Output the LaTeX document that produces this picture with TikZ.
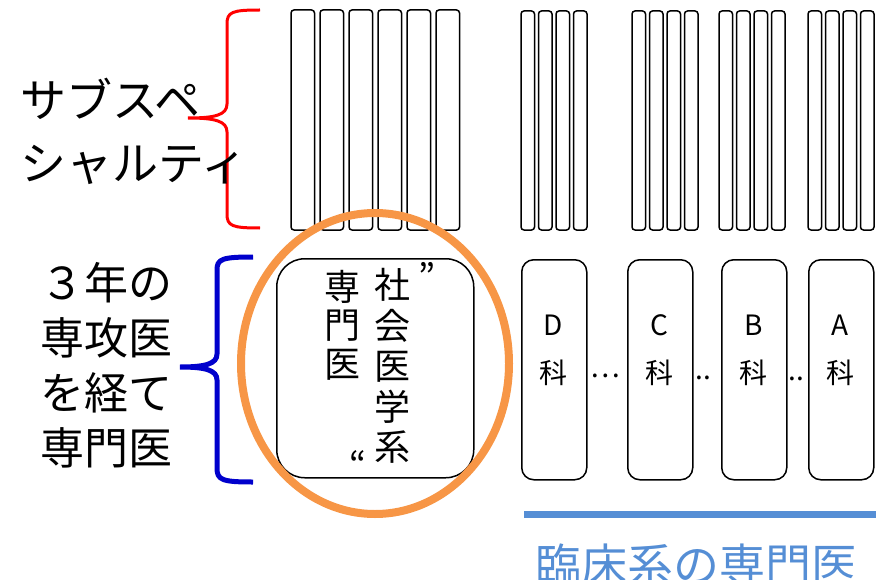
\documentclass[tikz,border=0pt]{standalone}
\usepackage{fontspec}
\setmainfont{Noto Sans CJK JP}
\definecolor{subred}{RGB}{255,0,0}
\definecolor{bracenavy}{RGB}{0,0,204}
\definecolor{ringorange}{HTML}{F79646}
\definecolor{clinblue}{HTML}{558ED5}

\begin{document}
\begin{tikzpicture}[x=1pt,y=-1pt,
  bar/.style={draw, line width=1.5pt, rounded corners=3pt},
  deptbox/.style={draw, line width=1.5pt, rounded corners=12pt, minimum width=65pt, minimum height=220pt, inner sep=0pt, anchor=north west},
  deptlabel/.style={font=\fontsize{28}{28}\selectfont, inner sep=0pt},
  sidetext/.style={font=\fontsize{44}{55}\selectfont, align=left, anchor=west, inner sep=0pt}]
  \useasboundingbox (0,0) rectangle (883,580);

  \foreach \i in {0,...,5}
    \draw[bar] (291+29*\i,10) rectangle (314.5+29*\i,230);
  \foreach \g in {521,632,719,808}
    \foreach \i in {0,...,3}
      \draw[bar] (\g+17.5*\i,11) rectangle (\g+13.5+17.5*\i,230);

  \node[draw, line width=1.5pt, rounded corners=28pt, minimum width=197pt, minimum height=219pt, anchor=north west] (socbox) at (276,258) {};
  \node[font=\fontsize{36}{38.5}\selectfont, align=center, inner sep=0pt] (senmon) at (342,325) {専\\門\\医};
  \node[font=\fontsize{36}{40.5}\selectfont, align=center, inner sep=0pt] (shakai) at (392,366) {社\\会\\医\\学\\系};
  \node[font=\fontsize{36}{36}\selectfont, inner sep=0pt] (qopen) at (427,276) {”};
  \node[font=\fontsize{36}{36}\selectfont, inner sep=0pt] (qclose) at (358,464) {“};

  \foreach \n/\x in {D/521,C/627,B/721,A/808} {
    \node[deptbox] (dept\n) at (\x,259) {};
    \node[deptlabel] at (\x+32.5,325) {\n};
    \node[deptlabel] at (\x+32.5,373) {科};
  }
  \node[deptlabel] (dotsDC) at (605,376) {…};
  \node[deptlabel] (dotsCB) at (703,378) {..};
  \node[deptlabel] (dotsBA) at (796,379) {..};

  \draw[ringorange, line width=8pt] (375,363.5) ellipse [x radius=134pt, y radius=150.5pt];

  \draw[subred, line width=3pt] (260,10) .. controls (232,10) and (227,12) .. (227,24) -- (227,104)
    .. controls (227,115) and (215,118) .. (188,118) .. controls (215,118) and (227,121) .. (227,132)
    -- (227,214) .. controls (227,226) and (232,228) .. (260,228);
  \draw[bracenavy, line width=5pt] (253,257) .. controls (222,257) and (217,259) .. (217,270) -- (217,354)
    .. controls (217,364) and (205,367) .. (180,367) .. controls (205,367) and (217,370) .. (217,380)
    -- (217,468) .. controls (217,480) and (222,482) .. (253,482);

  \node[sidetext, font=\fontsize{46}{63}\selectfont] (subspec) at (20,131) {サブスペ\\シャルティ};
  \node[sidetext] (senkoui) at (40,365) {３年の\\専攻医\\を経て\\専門医};

  \draw[clinblue, line width=7pt] (524,514) -- (876,514);
  \node[clinblue, font=\fontsize{46}{46}\selectfont, inner sep=0pt] (rinsho) at (696,565) {臨床系の専門医};
\end{tikzpicture}
\end{document}
